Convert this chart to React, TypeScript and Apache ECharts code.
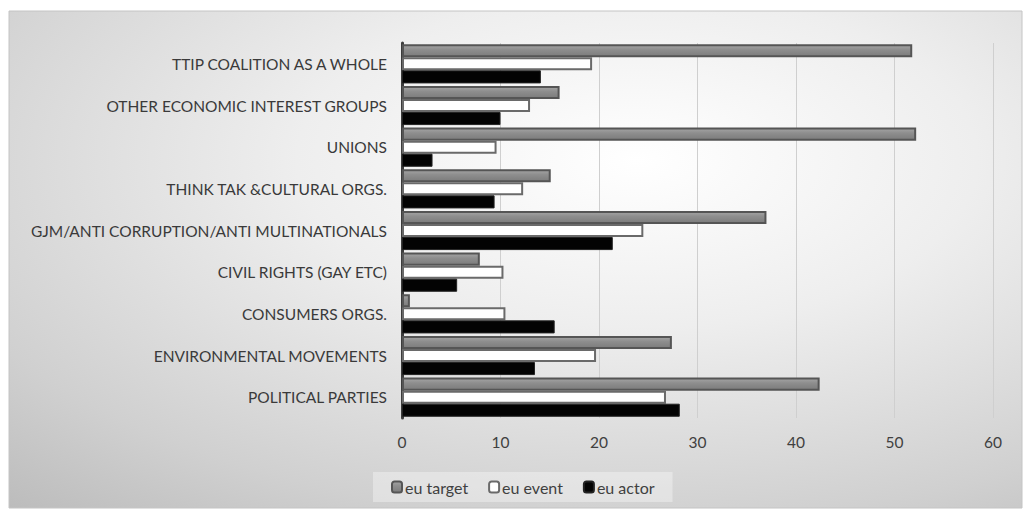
import React, { useEffect, useRef } from "react";
import * as echarts from "echarts";

const categories = [
  "TTIP COALITION AS A WHOLE",
  "OTHER ECONOMIC INTEREST GROUPS",
  "UNIONS",
  "THINK TAK &CULTURAL ORGS.",
  "GJM/ANTI CORRUPTION/ANTI MULTINATIONALS",
  "CIVIL RIGHTS (GAY ETC)",
  "CONSUMERS ORGS.",
  "ENVIRONMENTAL MOVEMENTS",
  "POLITICAL PARTIES",
];
const euTarget = [51.8, 16.0, 52.2, 15.1, 37.0, 7.9, 0.8, 27.4, 42.4];
const euEvent = [19.3, 13.0, 9.6, 12.3, 24.5, 10.3, 10.5, 19.7, 26.8];
const euActor = [14.1, 10.0, 3.1, 9.4, 21.4, 5.6, 15.5, 13.5, 28.2];
const seriesNames = ["eu target", "eu event", "eu actor"];

const FONT = "Lato, 'Open Sans', sans-serif";

export default function App() {
  const ref = useRef<HTMLDivElement>(null);
  useEffect(() => {
    if (!ref.current) return;
    const chart = echarts.init(ref.current, null, { renderer: "svg" });
    chart.setOption({
      animation: false,
      graphic: [
        {
          type: "rect",
          z: -10,
          silent: true,
          shape: { x: 9, y: 11, width: 1013, height: 497 },
          style: {
            fill: new echarts.graphic.RadialGradient(0.62, 0.3, 1.12, [
              { offset: 0, color: "#ffffff" },
              { offset: 0.3, color: "#eeeeee" },
              { offset: 0.65, color: "#d0d0d0" },
              { offset: 1, color: "#aaaaaa" },
            ]),
            stroke: "#c4c4c4",
            lineWidth: 1,
          },
        },
      ],
      legend: {
        data: seriesNames,
        left: 373,
        top: 472,
        padding: [7, 18, 7, 18],
        backgroundColor: "rgba(255,255,255,0.35)",
        itemWidth: 10,
        itemHeight: 11,
        itemGap: 20,
        textStyle: { fontFamily: FONT, fontSize: 16, color: "#404040", padding: [0, 0, 0, -2] },
      },
      grid: { left: 402, right: 32, top: 43, bottom: 93, containLabel: false },
      xAxis: {
        type: "value",
        min: 0,
        max: 60,
        interval: 10,
        axisLine: { show: false },
        axisTick: { show: false },
        axisLabel: { fontFamily: FONT, fontSize: 15.5, color: "#404040", margin: 16 },
        splitLine: { show: true, lineStyle: { color: "#cfcfcf", width: 1 } },
      },
      yAxis: {
        type: "category",
        data: categories,
        inverse: true,
        axisLine: { show: true, lineStyle: { color: "#3c3c3c", width: 3 } },
        axisTick: { show: false },
        axisLabel: { fontFamily: FONT, fontSize: 15.5, color: "#3a3a3a", margin: 15 },
      },
      series: [
        {
          name: "eu target",
          type: "bar",
          data: euTarget,
          barGap: "0%",
          barCategoryGap: "6%",
          itemStyle: {
            color: new echarts.graphic.LinearGradient(0, 0, 0, 1, [
              { offset: 0, color: "#a4a4a4" },
              { offset: 0.4, color: "#8e8e8e" },
              { offset: 1, color: "#7c7c7c" },
            ]),
            borderColor: "#555555",
            borderWidth: 2,
          },
        },
        {
          name: "eu event",
          type: "bar",
          data: euEvent,
          itemStyle: { color: "#ffffff", borderColor: "#6a6a6a", borderWidth: 2 },
        },
        {
          name: "eu actor",
          type: "bar",
          data: euActor,
          itemStyle: { color: "#030303", borderColor: "#222222", borderWidth: 1 },
        },
      ],
    });
    return () => chart.dispose();
  }, []);
  return (
    <div
      ref={ref}
      style={{ position: "absolute", left: 0, top: 0, width: 1025, height: 511 }}
    />
  );
}
